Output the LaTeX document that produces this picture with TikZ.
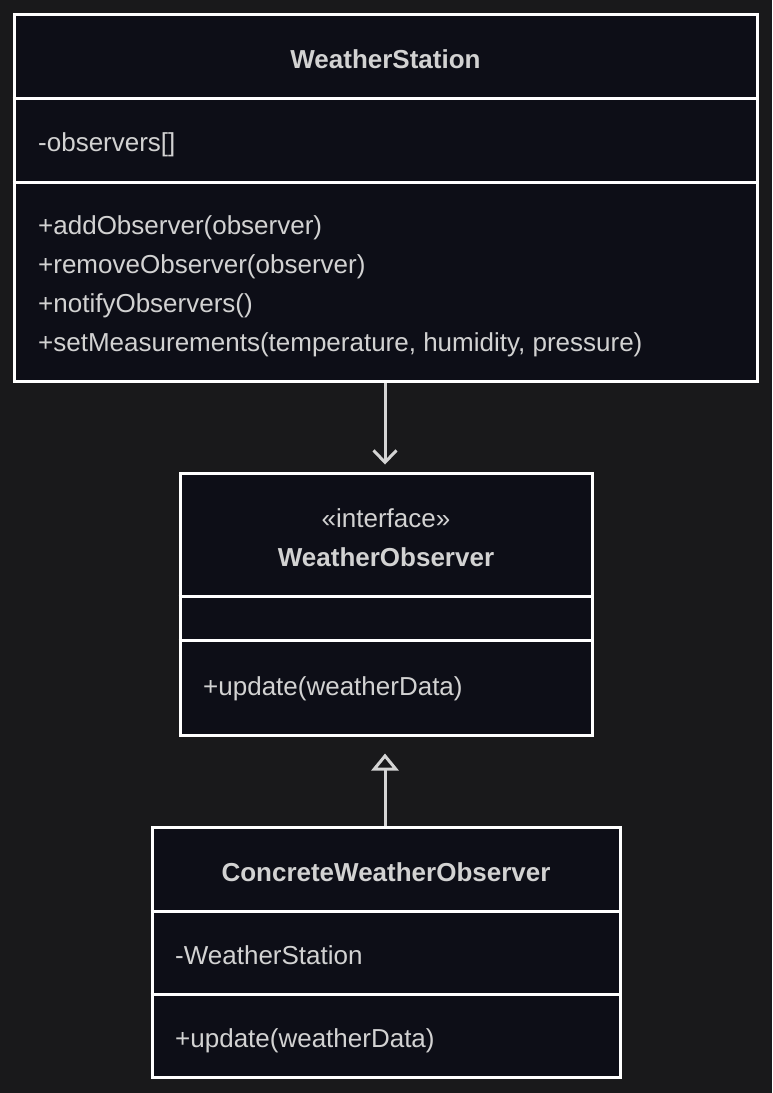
\documentclass[tikz,border=0pt]{standalone}
\usepackage{fontspec}
\setmainfont{Liberation Sans}
\usetikzlibrary{arrows.meta,positioning,calc}
\definecolor{canvas}{HTML}{19191B}
\definecolor{boxfill}{HTML}{0D0E17}
\definecolor{ink}{HTML}{D2D2D2}
\definecolor{wire}{HTML}{D4D4D4}
\tikzset{
  classbox/.style={draw=white, fill=boxfill, line width=3pt, inner sep=0pt},
  divider/.style={draw=white, line width=3pt},
  member/.style={anchor=base west, text=ink, inner sep=0pt, font=\fontsize{26}{31}\selectfont},
  title/.style={anchor=base, text=ink, inner sep=0pt, font=\fontsize{26}{31}\selectfont\bfseries},
  assoc/.style={draw=wire, line width=3pt, -{Straight Barb[length=12pt,width=23pt,line width=3pt]}},
  realize/.style={draw=wire, line width=3pt, -{Triangle[open,length=17pt,width=27pt,line width=3pt]}}
}
\begin{document}
\begin{tikzpicture}[x=1pt,y=-1pt]
				\fill[canvas] (0,0) rectangle (772,1093);
				\useasboundingbox (0,0) rectangle (772,1093);
				
				% WeatherStation
				\node[classbox, minimum width=743pt, minimum height=367pt] (station) at (385.5,197.5) {};
				\draw[divider] (station.west |- 0,98) -- (station.east |- 0,98);
				\draw[divider] (station.west |- 0,182) -- (station.east |- 0,182);
				\node[title] (stationname) at (385.5,68) {WeatherStation};
				\node[member] (observers) at (38,151) {-observers[]};
				\node[member] (addobs) at (38,234) {+addObserver(observer)};
				\node[member] (removeobs) at (38,273) {+removeObserver(observer)};
				\node[member] (notifyobs) at (38,312) {+notifyObservers()};
				\node[member] (setmeas) at (38,351) {+setMeasurements(temperature, humidity, pressure)};
				
				% WeatherObserver
				\node[classbox, minimum width=412pt, minimum height=262pt] (observer) at (386,604) {};
				\draw[divider] (observer.west |- 0,596) -- (observer.east |- 0,596);
				\draw[divider] (observer.west |- 0,640) -- (observer.east |- 0,640);
				\node[member, anchor=base] (stereo) at (386,527) {«interface»};
				\node[title] (observername) at (386,566) {WeatherObserver};
				\node[member] (update) at (203,695) {+update(weatherData)};
				
				% ConcreteWeatherObserver
				\node[classbox, minimum width=468pt, minimum height=250pt] (concrete) at (386,952) {};
				\draw[divider] (concrete.west |- 0,911) -- (concrete.east |- 0,911);
				\draw[divider] (concrete.west |- 0,994) -- (concrete.east |- 0,994);
				\node[title] (concretename) at (386,881) {ConcreteWeatherObserver};
				\node[member] (stationref) at (175,964) {-WeatherStation};
				\node[member] (concreteupdate) at (175,1047) {+update(weatherData)};
				
				% connectors
				\draw[assoc, shorten >=7pt] (station.south -| 385,0) -- (observer.north -| 385,0);
				\draw[realize, shorten >=17pt] (concrete.north -| 385,0) -- (observer.south -| 385,0);
\end{tikzpicture}
\end{document}
